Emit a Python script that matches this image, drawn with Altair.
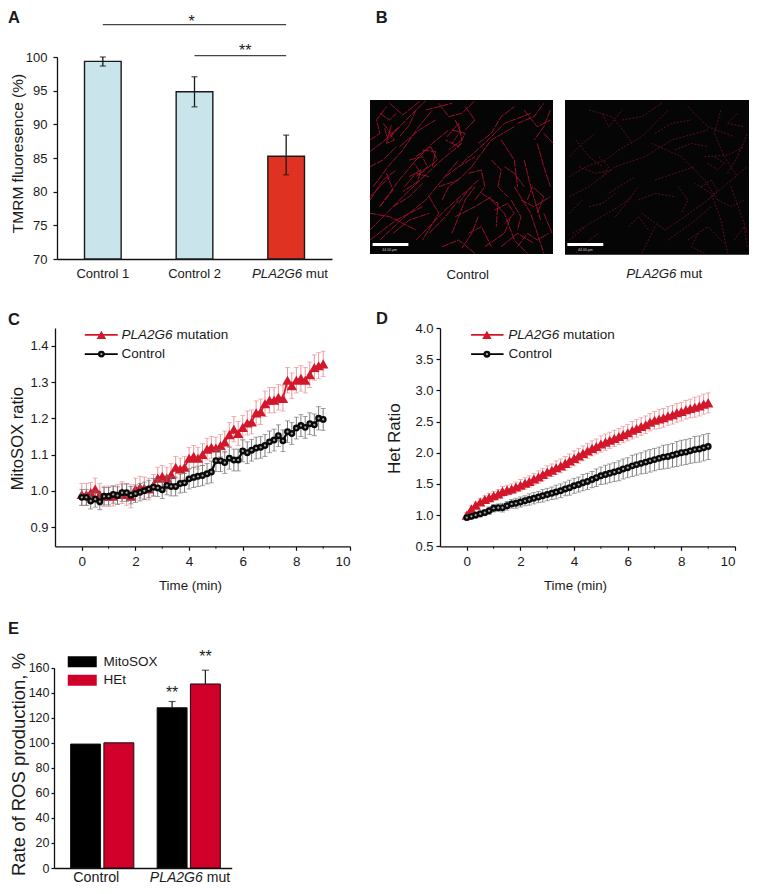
import altair as alt
import pandas as pd

FONT = "Liberation Sans"
INK = "#1a1a1a"
W, H = 741, 878

# ---------- Panel A ----------
A_CATS = ["Control 1", "Control 2", "PLA2G6 mut"]
A_VALS = [99.35, 94.84, 85.27]
A_LOW = [98.66, 92.6, 82.5]
A_HIGH = [100.0, 97.07, 88.4]
A_COLORS = ["#c9e4ea", "#c9e4ea", "#e03222"]

B1_STRANDS = [
    [(30,455),(70,425),(110,390),(160,340),(200,302)], [(40,560),(85,500),(130,450),(175,385),(220,330)],
    [(60,620),(115,545),(170,480),(220,430),(270,390)], [(30,690),(130,590),(215,510),(260,470),(310,430)],
    [(170,720),(225,665),(270,620),(340,560)], [(280,700),(300,650),(320,600),(350,560)],
    [(310,490),(380,430),(440,370),(520,340)], [(340,500),(400,420),(470,380)], [(60,720),(130,655),(200,600),(300,480)],
    [(200,330),(280,310)], [(70,370),(95,400),(120,380),(85,420),(75,385)], [(170,470),(215,440),(235,480),(185,520),(165,490)],
    [(150,530),(185,510),(175,545),(130,575)], [(265,410),(300,370),(310,420),(270,450)],
    [(400,600),(420,620),(440,640),(455,680),(470,720),(510,760)], [(470,560),(495,600),(520,640),(540,700),(560,760)],
    [(500,480),(510,520),(520,560),(535,610),(550,660)], [(380,740),(440,700),(460,650)],
    [(560,400),(588,430)], [(30,640),(90,650),(170,690)], [(80,520),(100,570),(60,620)],
    [(240,310),(270,350),(310,340),(350,302)], [(480,370),(530,350),(560,310)], [(430,420),(470,480),(480,560)],
    [(210,590),(240,640),(190,720)], [(290,650),(350,620),(400,590)], [(370,580),(420,610),(415,680)],
    [(490,600),(530,620),(580,590)], [(30,720),(110,660),(190,620)], [(120,440),(180,390),(230,360)],
    [(260,530),(300,500),(350,470)], [(240,560),(300,540)], [(540,430),(560,500),(580,560)],
    [(430,740),(480,700),(530,730)], [(330,700),(370,680),(400,740)], [(250,740),(300,720),(350,760)],
    [(90,310),(130,345),(180,305)], [(500,330),(540,380),(580,360)], [(30,600),(70,540),(110,510)],
    [(560,640),(585,700)], [(460,600),(490,650),(480,690)],
    [(60,340),(90,360),(110,340)], [(85,395),(105,420),(80,430),(95,375)], [(150,480),(190,470),(205,500),(170,530)],
    [(190,450),(230,455),(220,500)], [(135,560),(170,520),(210,530)], [(280,390),(320,400),(300,440),(260,420)],
    [(290,360),(305,395),(280,430)], [(250,600),(270,560),(310,530),(340,500)], [(300,610),(330,570),(360,540)],
    [(210,700),(260,650),(300,600)], [(100,700),(150,660),(210,640)], [(30,500),(70,480),(110,440)],
    [(30,590),(60,560),(90,530)], [(410,630),(450,610),(470,640),(440,670)], [(510,600),(525,560),(560,590),(540,640)],
    [(440,500),(470,520),(500,560)], [(400,480),(430,510),(420,560),(450,590)], [(480,740),(510,700),(540,720),(575,700)],
    [(580,330),(560,380),(530,420)], [(360,430),(400,400),(430,350),(470,320)], [(320,320),(350,360),(320,390)],
    [(30,420),(60,400),(50,360),(80,320)], [(170,330),(150,375),(120,410)], [(360,650),(340,700),(310,745)],
    [(100,620),(150,590),(190,550)], [(330,520),(370,510),(380,560),(350,600)],
]
B2_STRANDS = [
    [(640,530),(690,500),(750,480),(790,450),(860,410),(940,330)], [(660,420),(700,470),(740,500)],
    [(640,590),(700,560),(780,500),(870,470),(950,420),(1060,390)], [(700,330),(770,350),(810,400),(830,430)],
    [(650,700),(720,660),(790,620),(830,590)], [(640,720),(690,680)], [(860,640),(930,690),(990,650),(1060,600),(1180,500)],
    [(1020,550),(1070,580),(1100,660),(1120,760)], [(890,430),(980,470),(1050,540),(1090,600)], [(1050,470),(1120,465),(1170,440)],
    [(900,680),(880,720),(860,760)], [(780,650),(820,600),(850,560)], [(940,720),(1010,670),(1070,620)],
    [(1100,330),(1080,400),(1110,470),(1150,530)], [(1000,320),(1060,380),(1140,410)], [(640,640),(680,600)],
    [(740,340),(760,380),(800,330)], [(1130,560),(1160,640),(1180,700)], [(1000,720),(1060,680),(1110,730)],
    [(660,760),(700,720),(730,700)], [(900,540),(960,520),(1020,500)],
    [(670,500),(720,520),(770,510)], [(730,470),(760,500),(740,530)], [(640,470),(680,430),(720,400)],
    [(800,360),(860,350),(920,310)], [(900,400),(950,370),(1010,360)], [(960,450),(1010,430),(1060,440)],
    [(1080,470),(1110,490),(1090,510),(1060,490)], [(1040,560),(1070,540),(1090,570),(1060,600)], [(1090,600),(1130,620),(1170,600)],
    [(1120,520),(1150,470),(1180,400)], [(1150,340),(1120,370),(1170,380)], [(850,600),(900,580),(960,590)],
    [(820,680),(850,650),(880,690)], [(760,580),(790,560),(840,530)], [(700,620),(740,610),(780,580)],
    [(1140,720),(1170,680),(1180,740)], [(970,560),(1000,600),(980,640)], [(1030,700),(1010,740),(1050,760)],
]

# ---------- Panels C, D ----------
TIME = [0,.17,.33,.5,.67,.83,1,1.17,1.33,1.5,1.67,1.83,2,2.17,2.33,2.5,2.67,2.83,3,3.17,3.33,3.5,3.67,3.83,4,
        4.17,4.33,4.5,4.67,4.83,5,5.17,5.33,5.5,5.67,5.83,6,6.17,6.33,6.5,6.67,6.83,7,7.17,7.33,7.5,7.67,7.83,8,
        8.17,8.33,8.5,8.67,8.83,9]
C_MUT = [.99,.99,.995,1.005,.99,.985,.985,.985,.99,.995,.99,.985,1.005,1.01,1.008,1.005,1.015,1.035,1.04,1.035,
         1.045,1.065,1.06,1.065,1.09,1.095,1.09,1.1,1.115,1.12,1.118,1.125,1.135,1.155,1.17,1.158,1.175,1.187,1.19,
         1.215,1.218,1.24,1.25,1.25,1.258,1.255,1.305,1.29,1.305,1.31,1.305,1.32,1.34,1.345,1.35]
C_MUT_ERR = [.03,.03,.028,.03,.03,.028,.028,.027,.027,.03,.03,.032,.03,.03,.03,.03,.03,.03,.03,.03,
             .03,.03,.03,.03,.03,.03,.03,.03,.03,.03,.03,.03,.03,.033,.035,.033,.033,.033,.033,
             .033,.035,.035,.035,.035,.035,.035,.035,.035,.035,.035,.035,.035,.035,.036,.035]
C_CTRL = [.982,.982,.972,.977,.97,.985,.985,.99,.987,.995,.995,.988,.992,.996,1.0,1.005,1.01,1.008,1.003,1.015,
          1.012,1.012,1.02,1.022,1.033,1.037,1.04,1.042,1.047,1.052,1.083,1.083,1.078,1.09,1.085,1.085,1.11,1.105,
          1.112,1.118,1.12,1.125,1.135,1.14,1.152,1.138,1.163,1.158,1.173,1.18,1.175,1.185,1.182,1.2,1.197]
C_CTRL_ERR = [.022,.022,.022,.022,.022,.024,.024,.024,.024,.024,.024,.024,.024,.024,.024,.024,.024,.024,.024,.026,
              .026,.026,.026,.026,.028,.028,.028,.028,.028,.03,.03,.03,.03,.03,.03,.03,.03,.03,
              .03,.03,.03,.03,.03,.03,.03,.03,.03,.03,.03,.03,.03,.03,.03,.032,.03]
D_MUT = [1.0,1.1,1.16,1.21,1.25,1.28,1.31,1.34,1.38,1.40,1.42,1.45,1.48,1.51,1.54,1.58,1.61,1.65,1.69,1.72,1.76,
         1.79,1.83,1.87,1.91,1.95,1.99,2.03,2.07,2.1,2.14,2.17,2.2,2.23,2.26,2.29,2.32,2.36,2.39,2.42,2.45,2.49,
         2.52,2.54,2.56,2.59,2.61,2.64,2.66,2.69,2.71,2.73,2.75,2.78,2.8]
D_MUT_ERR = [.04,.05,.05,.06,.06,.07,.07,.07,.08,.08,.08,.08,.09,.09,.09,.09,.1,.1,.1,.1,.11,.11,.11,.11,.12,.12,.12,
             .12,.12,.12,.13,.13,.13,.13,.13,.13,.13,.14,.14,.14,.14,.14,.14,.15,.15,.15,.15,.15,.15,.15,.15,.16,.16,.16,.16]
D_CTRL = [.96,.98,1.0,1.02,1.04,1.07,1.11,1.12,1.12,1.15,1.18,1.19,1.21,1.23,1.25,1.27,1.29,1.31,1.33,1.35,1.37,1.39,
          1.42,1.44,1.47,1.49,1.52,1.54,1.57,1.6,1.63,1.65,1.67,1.69,1.71,1.74,1.76,1.79,1.81,1.83,1.85,1.87,1.89,1.91,
          1.93,1.94,1.96,1.98,2.0,2.01,2.03,2.05,2.06,2.08,2.1]
D_CTRL_ERR = [.04,.04,.05,.05,.05,.06,.06,.06,.07,.07,.07,.08,.08,.08,.09,.09,.09,.1,.1,.1,.11,.11,.11,.12,.12,.12,.13,
              .13,.13,.14,.14,.15,.15,.15,.16,.16,.16,.17,.17,.17,.18,.18,.18,.18,.19,.19,.19,.2,.2,.2,.2,.21,.21,.21,.21]

# ---------- Panel E ----------
E_GROUPS = ["Control", "Control", "PLA2G6 mut", "PLA2G6 mut"]
E_SERIES = ["MitoSOX", "HEt", "MitoSOX", "HEt"]
E_VALS = [99, 100, 128, 147]
E_HIGH = [99, 100, 133, 158]

RED = "#d3172b"


def letter(txt, x, y):
    return alt.Chart(pd.DataFrame({"t": [txt]})).mark_text(
        font=FONT, fontSize=16.5, fontWeight="bold", color=INK, align="left", baseline="alphabetic"
    ).encode(x=alt.value(x), y=alt.value(y), text="t:N")


# ------ A ------
a_df = pd.DataFrame({"c": A_CATS, "v": A_VALS, "lo": A_LOW, "hi": A_HIGH, "f": A_COLORS, "base": [70, 70, 70]})
a_sx = alt.Scale(domain=A_CATS, paddingInner=0.6, paddingOuter=0.3, range=[49, 324])
a_sy = alt.Scale(domain=[70, 100], range=[251, 49], zero=False, nice=False)
a_x = alt.X("c:N", sort=A_CATS, title=None, scale=a_sx,
            axis=alt.Axis(orient="bottom", offset=-(H - 251), ticks=False, labelAngle=0, labelFontSize=13, labelPadding=8,
                          labelExpr="datum.label == 'PLA2G6 mut' ? '' : datum.label"))
a_y = alt.Y("v:Q", scale=a_sy,
            axis=alt.Axis(orient="left", offset=-49, values=[70, 75, 80, 85, 90, 95, 100], title="TMRM fluoresence (%)",
                          tickSize=4, labelPadding=6, labelFontSize=13, titleFontSize=15.5,
                          titleFontWeight="normal", titleX=-40, titleY=145, titleBaseline="middle"))
a_bars = alt.Chart(a_df).mark_bar(stroke=INK, strokeWidth=1.4).encode(
    x=a_x, y=a_y, y2="base:Q", fill=alt.Fill("f:N", scale=None))
ax = alt.X("c:N", sort=A_CATS, scale=a_sx)
a_err = alt.Chart(a_df).mark_rule(color=INK, strokeWidth=1.3).encode(x=ax, y=alt.Y("lo:Q", scale=a_sy), y2="hi:Q")
a_cap1 = alt.Chart(a_df).mark_tick(color=INK, size=6, thickness=1.3, orient="horizontal").encode(x=ax, y=alt.Y("lo:Q", scale=a_sy))
a_cap2 = alt.Chart(a_df).mark_tick(color=INK, size=6, thickness=1.3, orient="horizontal").encode(x=ax, y=alt.Y("hi:Q", scale=a_sy))
sig_df = pd.DataFrame({"c": ["Control 1", "Control 2"], "b": ["PLA2G6 mut", "PLA2G6 mut"], "y": [104.8, 100.2]})
a_sig = alt.Chart(sig_df).mark_rule(color="#444", strokeWidth=1.2).encode(x=ax, x2="b:N", y=alt.Y("y:Q", scale=a_sy))
a_star1 = alt.Chart(pd.DataFrame({"c": ["Control 2"], "y": [104.46], "s": ["*"]})).mark_text(
    font=FONT, fontSize=16, color=INK, baseline="alphabetic", dx=-3).encode(x=ax, y=alt.Y("y:Q", scale=a_sy), text="s:N")
a_star2 = alt.Chart(pd.DataFrame({"c": ["PLA2G6 mut"], "y": [100.15], "s": ["**"]})).mark_text(
    font=FONT, fontSize=16, color=INK, baseline="alphabetic", dx=-41).encode(x=ax, y=alt.Y("y:Q", scale=a_sy), text="s:N")
a_lab1 = alt.Chart(pd.DataFrame({"c": ["PLA2G6 mut"], "t": ["PLA2G6"]})).mark_text(
    font=FONT, fontSize=13.3, fontStyle="italic", color=INK, align="right", dx=16).encode(x=ax, y=alt.value(266), text="t:N")
a_lab2 = alt.Chart(pd.DataFrame({"c": ["PLA2G6 mut"], "t": ["mut"]})).mark_text(
    font=FONT, fontSize=13.3, color=INK, align="left", dx=19.7).encode(x=ax, y=alt.value(266), text="t:N")
panel_a = alt.layer(a_bars, a_err, a_cap1, a_cap2, a_sig, a_star1, a_star2, a_lab1, a_lab2, letter("A", 0, 15))


# ------ B ------
def micrograph(strands, xdom, xrange, ydom, yrange, color, width, dash, bar, tiny):
    rows = [{"id": i, "o": j, "x": p[0], "y": p[1]} for i, s in enumerate(strands) for j, p in enumerate(s)]
    sx = alt.Scale(domain=xdom, range=xrange, nice=False, zero=False)
    sy = alt.Scale(domain=ydom, range=yrange, nice=False, zero=False)
    X = lambda f: alt.X(f, scale=sx, axis=None)
    Y = lambda f: alt.Y(f, scale=sy, axis=None)
    bg = alt.Chart(pd.DataFrame({"a": [xdom[0]], "b": [xdom[1]], "c": [ydom[0]], "d": [ydom[1]]})).mark_rect(color="#050505").encode(
        x=X("a:Q"), x2="b:Q", y=Y("c:Q"), y2="d:Q")
    lines = alt.Chart(pd.DataFrame(rows)).mark_line(color=color, strokeWidth=width, strokeDash=dash).encode(
        x=X("x:Q"), y=Y("y:Q"), detail="id:N", order="o:Q")
    sbar = alt.Chart(pd.DataFrame({"a": [bar[0]], "b": [bar[1]], "c": [729], "d": [738]})).mark_rect(color="white").encode(
        x=X("a:Q"), x2="b:Q", y=Y("c:Q"), y2="d:Q")
    stxt = alt.Chart(pd.DataFrame({"x": [tiny], "y": [751], "t": ["44.00 µm"]})).mark_text(
        font=FONT, fontSize=3.5, color="#cccccc").encode(x=X("x:Q"), y=Y("y:Q"), text="t:N")
    return [bg, lines, sbar, stxt], X, Y


b1_layers, X1, Y1 = micrograph(B1_STRANDS, [30, 588], [362, 545], [300, 762], [92, 246], "#a8122c", 0.9, [7, 1], (38, 147), 90)
b2_layers, X2, Y2 = micrograph(B2_STRANDS, [627, 1185], [557, 741], [300, 764], [92, 246.67], "#6f1024", 0.8, [2, 1.5], (634, 743), 689)
b1_cap = alt.Chart(pd.DataFrame({"x": [328], "y": [826], "t": ["Control"]})).mark_text(
    font=FONT, fontSize=13.2, color=INK).encode(x=X1("x:Q"), y=Y1("y:Q"), text="t:N")
b2_cap1 = alt.Chart(pd.DataFrame({"x": [965], "y": [822], "t": ["PLA2G6"]})).mark_text(
    font=FONT, fontSize=13.3, fontStyle="italic", color=INK, align="right").encode(x=X2("x:Q"), y=Y2("y:Q"), text="t:N")
b2_cap2 = alt.Chart(pd.DataFrame({"x": [976], "y": [822], "t": ["mut"]})).mark_text(
    font=FONT, fontSize=13.3, color=INK, align="left").encode(x=X2("x:Q"), y=Y2("y:Q"), text="t:N")
panel_b1 = alt.layer(*b1_layers, b1_cap, letter("B", 367.7, 15))
panel_b2 = alt.layer(*b2_layers, b2_cap1, b2_cap2)


# ------ C, D ------
def kinetics(xrange, mut, mut_err, ctrl, ctrl_err, ydomain, yvalues, ytitle, title_size, title_x,
             leg_x, leg_y, letter_txt, letter_x, letter_y):
    top, bottom = 320, 538.3
    df = pd.DataFrame({"t": TIME, "m": mut, "me": mut_err, "c": ctrl, "ce": ctrl_err})
    df["ml"] = df.m - df.me
    df["mh"] = df.m + df.me
    df["cl"] = df.c - df.ce
    df["ch"] = df.c + df.ce
    sx = alt.Scale(domain=[-1, 10], range=xrange, nice=False, zero=False)
    sy = alt.Scale(domain=ydomain, range=[bottom, top], nice=False, zero=False)
    XT = alt.X("t:Q", scale=sx)
    X = alt.X("t:Q", scale=sx, axis=alt.Axis(orient="bottom", offset=-(H - bottom), values=[0, 2, 4, 6, 8, 10], format="d",
                                             tickSize=4, labelPadding=4, labelFontSize=13.5, title="Time (min)",
                                             titleFontSize=13.3, titleFontWeight="normal", titlePadding=11,
                                             titleX=xrange[0] + 135))
    Yaxis = alt.Axis(orient="left", offset=-xrange[0], values=yvalues, format=".1f", tickSize=4, labelPadding=3, labelFontSize=13,
                     title=ytitle, titleFontSize=title_size, titleFontWeight="normal",
                     titleX=title_x, titleY=(top + bottom) / 2 + 1, titleBaseline="middle")

    def bars(lo, hi, col):
        rule = alt.Chart(df).mark_rule(color=col, strokeWidth=0.9).encode(x=XT, y=alt.Y(lo, scale=sy), y2=hi)
        c1 = alt.Chart(df).mark_tick(color=col, size=5, thickness=0.9, orient="horizontal").encode(x=XT, y=alt.Y(lo, scale=sy))
        c2 = alt.Chart(df).mark_tick(color=col, size=5, thickness=0.9, orient="horizontal").encode(x=XT, y=alt.Y(hi, scale=sy))
        return [rule, c1, c2]

    base_axes = alt.Chart(df).mark_line(opacity=0).encode(x=X, y=alt.Y("m:Q", scale=sy, axis=Yaxis))
    minor = alt.Chart(pd.DataFrame({"t": [1, 3, 5, 7, 9]})).mark_rule(color=INK, strokeWidth=1).encode(
        x=XT, y=alt.value(bottom), y2=alt.value(bottom + 2.5))
    m_line = alt.Chart(df).mark_line(color=RED, strokeWidth=1.8).encode(x=XT, y=alt.Y("m:Q", scale=sy))
    m_pts = alt.Chart(df).mark_point(shape="triangle-up", filled=True, color=RED, size=110, opacity=1).encode(x=XT, y=alt.Y("m:Q", scale=sy))
    c_line = alt.Chart(df).mark_line(color="#000000", strokeWidth=2.2).encode(x=XT, y=alt.Y("c:Q", scale=sy))
    c_pts = alt.Chart(df).mark_point(shape="circle", filled=True, color="#0a0a0a", size=48, opacity=1).encode(x=XT, y=alt.Y("c:Q", scale=sy))
    c_dots = alt.Chart(df).mark_point(shape="circle", filled=True, color="#a8a8a8", size=5, opacity=1).encode(x=XT, y=alt.Y("c:Q", scale=sy))

    # hand-placed legend in the chart's own units
    l0, l1, lm, l_it, l_mu, l_c = leg_x
    y1, y2 = leg_y
    XX = alt.X("x:Q", scale=sx)
    YY = alt.Y("y:Q", scale=sy)
    leg_lines = pd.DataFrame({"x": [l0, l0], "b": [l1, l1], "y": [y1, y2], "col": [RED, "#000000"]})
    leg_l = alt.Chart(leg_lines).mark_rule(strokeWidth=1.8).encode(x=XX, x2="b:Q", y=YY, color=alt.Color("col:N", scale=None))
    leg_tri = alt.Chart(pd.DataFrame({"x": [lm], "y": [y1]})).mark_point(
        shape="triangle-up", filled=True, color=RED, size=90, opacity=1).encode(x=XX, y=YY)
    leg_cir = alt.Chart(pd.DataFrame({"x": [lm], "y": [y2]})).mark_point(
        shape="circle", filled=True, color="#0a0a0a", size=48, opacity=1).encode(x=XX, y=YY)
    leg_dot = alt.Chart(pd.DataFrame({"x": [lm], "y": [y2]})).mark_point(
        shape="circle", filled=True, color="#a8a8a8", size=5, opacity=1).encode(x=XX, y=YY)
    leg_t1 = alt.Chart(pd.DataFrame({"x": [l_it], "y": [y1], "s": ["PLA2G6"]})).mark_text(
        font=FONT, fontSize=13.5, fontStyle="italic", color=INK, align="right").encode(x=XX, y=YY, text="s:N")
    leg_t2 = alt.Chart(pd.DataFrame({"x": [l_mu], "y": [y1], "s": ["mutation"]})).mark_text(
        font=FONT, fontSize=13.5, color=INK, align="left").encode(x=XX, y=YY, text="s:N")
    leg_t3 = alt.Chart(pd.DataFrame({"x": [l_c], "y": [y2], "s": ["Control"]})).mark_text(
        font=FONT, fontSize=13.5, color=INK, align="left").encode(x=XX, y=YY, text="s:N")

    return alt.layer(base_axes, minor, *bars("ml:Q", "mh:Q", "#e88a90"), m_line, m_pts,
                     *bars("cl:Q", "ch:Q", "#6e6e6e"), c_line, c_pts, c_dots,
                     leg_l, leg_tri, leg_cir, leg_dot, leg_t1, leg_t2, leg_t3,
                     letter(letter_txt, letter_x, letter_y))


panel_c = kinetics([47, 342], C_MUT, C_MUT_ERR, C_CTRL, C_CTRL_ERR, [0.847, 1.449], [0.9, 1.0, 1.1, 1.2, 1.3, 1.4],
                   "MitoSOX ratio", 16.6, -38,
                   (0.11, 1.34, 0.73, 3.38, 3.53, 1.48), (1.43, 1.377), "C", 0, 317)
panel_d = kinetics([432, 727], D_MUT, D_MUT_ERR, D_CTRL, D_CTRL_ERR, [0.5, 4.0], [0.5, 1.0, 1.5, 2.0, 2.5, 3.0, 3.5, 4.0],
                   "Het Ratio", 17, -46,
                   (0.16, 1.37, 0.75, 3.45, 3.59, 1.55), (3.89, 3.58), "D", 368, 316)

# ------ E ------
LAB_Y = 870
AXIS_Y = 860
e_df = pd.DataFrame({"g": E_GROUPS, "s": E_SERIES, "v": E_VALS, "h": E_HIGH})
GROUP_DOM = ["Control", "PLA2G6 mut"]
e_xs = alt.Scale(domain=GROUP_DOM, paddingInner=0.25, paddingOuter=0.152, align=0.6, range=[46, 223.7])
e_ys = alt.Scale(domain=[0, 160], nice=False, range=[AXIS_Y, 659.7])
e_xo = alt.XOffset("s:N", sort=["MitoSOX", "HEt"],
                   scale=alt.Scale(domain=["MitoSOX", "HEt"], paddingInner=0.1, paddingOuter=0.025))
e_x = alt.X("g:N", sort=GROUP_DOM, scale=e_xs, title=None,
            axis=alt.Axis(orient="bottom", offset=-(H - AXIS_Y), labels=False, ticks=False))
ex = alt.X("g:N", sort=GROUP_DOM, scale=e_xs)
e_bars = alt.Chart(e_df).mark_bar(stroke="#111111", strokeWidth=1).encode(
    x=e_x, xOffset=e_xo,
    y=alt.Y("v:Q", scale=e_ys,
            axis=alt.Axis(orient="left", offset=-46, values=list(range(0, 161, 20)), tickSize=3, labelPadding=2, labelFontSize=12.5,
                          title="Rate of ROS production, %", titleFontSize=18.5, titleFontWeight="normal",
                          titleX=-36, titleY=756, titleBaseline="middle")),
    color=alt.Color("s:N", sort=["MitoSOX", "HEt"],
                    scale=alt.Scale(domain=["MitoSOX", "HEt"], range=["#000000", "#d0002a"]),
                    legend=alt.Legend(orient="none", legendX=67.5, legendY=647, title=None,
                                      symbolType="M-2.9,-1.1H2.9V1.1H-2.9Z", symbolSize=100,
                                      symbolStrokeWidth=0, labelOffset=14.5, labelFontSize=13.5,
                                      labelFont=FONT, labelColor=INK, rowPadding=3.5)))
e_err_df = e_df[e_df.h > e_df.v]
e_rule = alt.Chart(e_err_df).mark_rule(color=INK, strokeWidth=1.2).encode(x=ex, xOffset=e_xo, y=alt.Y("v:Q", scale=e_ys), y2="h:Q")
e_cap = alt.Chart(e_err_df).mark_tick(color=INK, size=7, thickness=1.2, orient="horizontal").encode(x=ex, xOffset=e_xo, y=alt.Y("h:Q", scale=e_ys))
e_star = alt.Chart(pd.DataFrame({"g": ["PLA2G6 mut", "PLA2G6 mut"], "s": ["MitoSOX", "HEt"],
                                 "y": [135.8, 164.8], "t": ["**", "**"]})).mark_text(
    font=FONT, fontSize=16, color=INK, baseline="alphabetic").encode(x=ex, xOffset=e_xo, y=alt.Y("y:Q", scale=e_ys), text="t:N")
e_l1 = alt.Chart(pd.DataFrame({"g": ["Control"], "t": ["Control"]})).mark_text(
    font=FONT, fontSize=14.3, color=INK, dx=-6).encode(x=ex, y=alt.value(LAB_Y), text="t:N")
e_l2 = alt.Chart(pd.DataFrame({"g": ["PLA2G6 mut"], "t": ["PLA2G6"]})).mark_text(
    font=FONT, fontSize=14, fontStyle="italic", color=INK, align="right", dx=14).encode(x=ex, y=alt.value(LAB_Y), text="t:N")
e_l3 = alt.Chart(pd.DataFrame({"g": ["PLA2G6 mut"], "t": ["mut"]})).mark_text(
    font=FONT, fontSize=14, color=INK, align="left", dx=18).encode(x=ex, y=alt.value(LAB_Y), text="t:N")
panel_e = alt.layer(e_bars, e_rule, e_cap, e_star, e_l1, e_l2, e_l3, letter("E", 0, 626))

# ------ layout: one canvas, every panel keeps its own scales and axes ------
chart = alt.layer(panel_a, panel_b1, panel_b2, panel_c, panel_d, panel_e).resolve_scale(
    x="independent", y="independent"
).resolve_axis(x="independent", y="independent").properties(
    width=W, height=H, padding=0, autosize=alt.AutoSizeParams(type="none")
).configure_view(stroke=None).configure_axis(
    grid=False, domainColor="#111111", tickColor="#111111", domainWidth=1.3, tickWidth=1.2,
    labelColor=INK, titleColor=INK, labelFont=FONT, titleFont=FONT
)

chart.save("out.html", embed_options={"renderer": "svg", "actions": False})
